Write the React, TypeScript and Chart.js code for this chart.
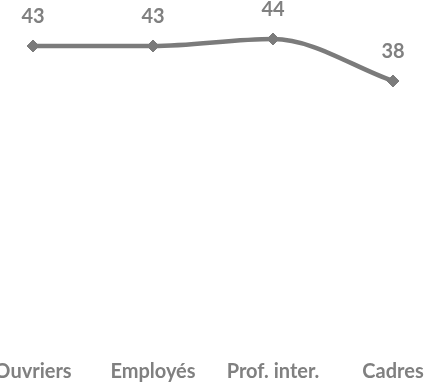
import React, { useEffect, useRef } from "react";
import { Chart, registerables } from "chart.js";

Chart.register(...registerables);

const categories = ["Ouvriers", "Employés", "Prof. inter.", "Cadres"];
const values = [43, 43, 44, 38];
const yMin = 0;
const yMax = 48.571;

const GREY = "#7b7b7b";
const TEXT_GREY = "#808080";
const FONT = "Lato, 'Liberation Sans', sans-serif";

const labelPlugin = {
  id: "pointLabels",
  afterDatasetsDraw(chart: any) {
    const ctx = chart.ctx;
    const meta = chart.getDatasetMeta(0);
    ctx.save();
    ctx.font = `bold 20px ${FONT}`;
    ctx.fillStyle = TEXT_GREY;
    ctx.textAlign = "center";
    ctx.textBaseline = "middle";
    meta.data.forEach((pt: any, i: number) => {
      ctx.fillText(String(values[i]), pt.x, pt.y - 29);
    });
    ctx.restore();
  },
};

export default function App() {
  const ref = useRef<HTMLCanvasElement>(null);
  useEffect(() => {
    if (!ref.current) return;
    const chart = new Chart(ref.current, {
      type: "line",
      data: {
        labels: categories,
        datasets: [
          {
            data: values,
            borderColor: GREY,
            backgroundColor: GREY,
            borderWidth: 4.5,
            pointStyle: "rectRot",
            pointRadius: 6,
            pointBackgroundColor: GREY,
            pointBorderColor: GREY,
            pointBorderWidth: 1,
            cubicInterpolationMode: "monotone",
            fill: false,
          },
        ],
      },
      plugins: [labelPlugin],
      options: {
        responsive: false,
        animation: false,
        layout: { padding: { left: 33, right: 50, top: 0, bottom: 0 } },
        plugins: { legend: { display: false }, tooltip: { enabled: false } },
        scales: {
          x: {
            offset: false,
            grid: { display: false, drawTicks: false },
            border: { display: false },
            ticks: {
              color: TEXT_GREY,
              font: { family: FONT, size: 20, weight: "bold" },
              padding: 13,
              maxRotation: 0,
              autoSkip: false,
            },
            afterFit(scale: any) {
              scale.paddingLeft = 0;
              scale.paddingRight = 0;
              scale.paddingTop = 0;
              scale.paddingBottom = 0;
              scale.height = 35;
            },
          },
          y: {
            display: false,
            min: yMin,
            max: yMax,
          },
        },
      },
    });
    return () => chart.destroy();
  }, []);
  return (
    <canvas
      ref={ref}
      width={443}
      height={382}
      style={{ position: "absolute", left: 0, top: 0, width: 443, height: 382 }}
    />
  );
}
